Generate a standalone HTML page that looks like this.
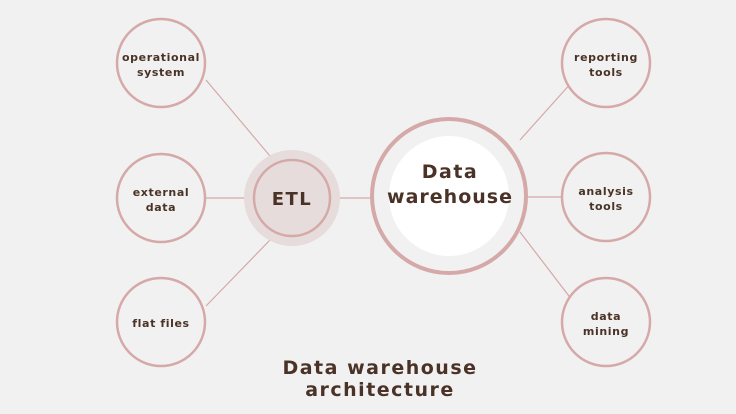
<!DOCTYPE html>
<html><head><meta charset="utf-8"><style>
body{margin:0;background:#f1f1f1;}
svg{display:block}
text{font-family:"DejaVu Sans","Liberation Sans",sans-serif;font-weight:bold;fill:#4a3326;text-anchor:middle}
</style></head><body>
<svg width="736" height="414" viewBox="0 0 736 414">
<rect width="736" height="414" fill="#f1f1f1"/>
<g stroke="#d5a9a8" stroke-width="1.2">
<line x1="206" y1="80" x2="270" y2="156"/>
<line x1="206" y1="198" x2="244" y2="198"/>
<line x1="206" y1="306" x2="270" y2="240"/>
<line x1="340" y1="198" x2="371" y2="198"/>
<line x1="520" y1="140" x2="572" y2="82"/>
<line x1="527" y1="197" x2="561" y2="197"/>
<line x1="520" y1="232" x2="572" y2="300"/>
</g>
<g fill="#f1f1f1" stroke="#d5a9a8" stroke-width="2.5">
<circle cx="161" cy="63" r="44"/>
<circle cx="161" cy="198" r="44"/>
<circle cx="161" cy="322" r="44"/>
<circle cx="606" cy="63" r="44"/>
<circle cx="606" cy="197" r="44"/>
<circle cx="606" cy="322" r="44"/>
</g>
<circle cx="292" cy="198" r="48" fill="#e6dcdb"/>
<circle cx="292" cy="198" r="38" fill="#e6dcdb" stroke="#d5a9a8" stroke-width="2.5"/>
<circle cx="449" cy="196" r="77" fill="#f1f1f1" stroke="#d5a9a8" stroke-width="4"/>
<circle cx="449" cy="196" r="60" fill="#ffffff"/>
<g font-size="11" letter-spacing="0.6">
<text x="161" y="61">operational</text><text x="161" y="76">system</text>
<text x="161" y="196">external</text><text x="161" y="211">data</text>
<text x="161" y="327">flat files</text>
<text x="606" y="61">reporting</text><text x="606" y="76">tools</text>
<text x="606" y="195">analysis</text><text x="606" y="210">tools</text>
<text x="606" y="320">data</text><text x="606" y="335">mining</text>
</g>
<text x="292" y="205" font-size="18" letter-spacing="1.5">ETL</text>
<text x="450" y="178" font-size="19" letter-spacing="1.5">Data</text>
<text x="450" y="203" font-size="19" letter-spacing="1">warehouse</text>
<text x="380" y="374" font-size="19" letter-spacing="1.5">Data warehouse</text>
<text x="380" y="396" font-size="19" letter-spacing="1.5">architecture</text>
</svg>
</body></html>
